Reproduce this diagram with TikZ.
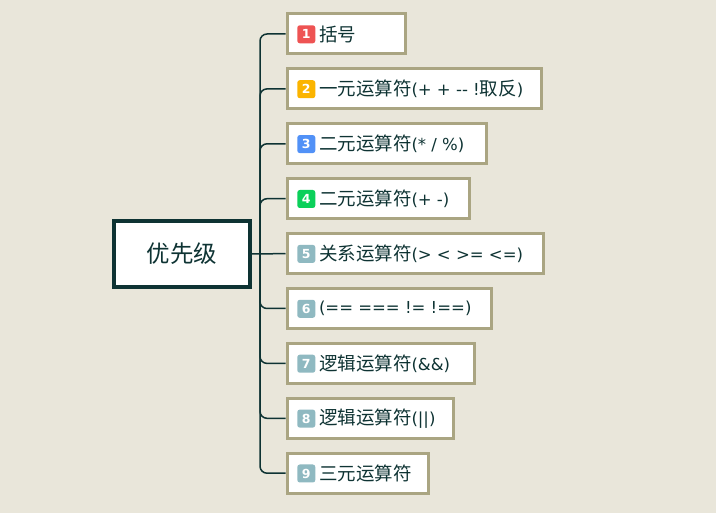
\documentclass[tikz,border=0pt]{standalone}
\usepackage{fontspec}
\setmainfont{DejaVu Sans}
\newfontfamily\cjk{Noto Sans CJK SC}
\newcommand{\zh}[1]{{\cjk\fontsize{18.5}{20}\selectfont #1}}
\definecolor{paper}{HTML}{E9E6DA}
\definecolor{darkline}{HTML}{0E3333}
\definecolor{boxline}{HTML}{AAA582}
\definecolor{bRed}{HTML}{EE5353}
\definecolor{bOrange}{HTML}{FBB400}
\definecolor{bBlue}{HTML}{5191F7}
\definecolor{bGreen}{HTML}{0BD05A}
\definecolor{bGrey}{HTML}{8FB9C1}
\tikzset{
  root/.style={draw=darkline, line width=4pt, fill=white, minimum width=136pt, minimum height=66pt, inner sep=0pt, text=darkline, font=\cjk\fontsize{23.5}{26}\selectfont},
  item/.style={draw=boxline, line width=3pt, fill=white, minimum height=40pt, inner xsep=0pt, anchor=west, text=darkline, font=\fontsize{16.5}{20}\selectfont},
  badge/.style={fill=#1, rounded corners=2.5pt, minimum size=18pt, inner sep=0pt, text=white, font=\bfseries\fontsize{12.5}{13}\selectfont},
  conn/.style={draw=darkline, line width=1.5pt},
}
\begin{document}
\begin{tikzpicture}[x=1pt, y=-1pt]
\fill[paper] (0,0) rectangle (716,513);
\useasboundingbox (0,0) rectangle (716,513);
\node[root] (prio) at (182,254) {优先级};
\coordinate (trunk) at (260,254);
\foreach \n/\col/\txt/\pad in {
  1/bRed/{\zh{括号}}/49.5,
  2/bOrange/{\zh{一元运算符}(+ + -{}- !\zh{取反})}/18.5,
  3/bBlue/{\zh{二元运算符}(* / \%)}/22,
  4/bGreen/{\zh{二元运算符}(+ -)}/20.5,
  5/bGrey/{\zh{关系运算符}(> < >= <=)}/20.5,
  6/bGrey/{(== === != !==)}/20,
  7/bGrey/{\zh{逻辑运算符}(\&\&)}/24.5,
  8/bGrey/{\zh{逻辑运算符}(||)}/18,
  9/bGrey/{\zh{三元运算符}}/17}{
  \node[item] (op\n) at (285.5,{34+(\n-1)*54.9}) {\hspace*{32pt}\txt\hspace*{\pad pt}};
  \node[badge=\col] (num\n) at (306.3,{34.3+(\n-1)*54.9}) {\n};
  \ifnum\n=5
    \draw[conn] (prio.east) -- (op\n.west);
  \else
    \draw[conn, rounded corners=7pt] (trunk) |- (op\n.west);
  \fi
}
\end{tikzpicture}
\end{document}
